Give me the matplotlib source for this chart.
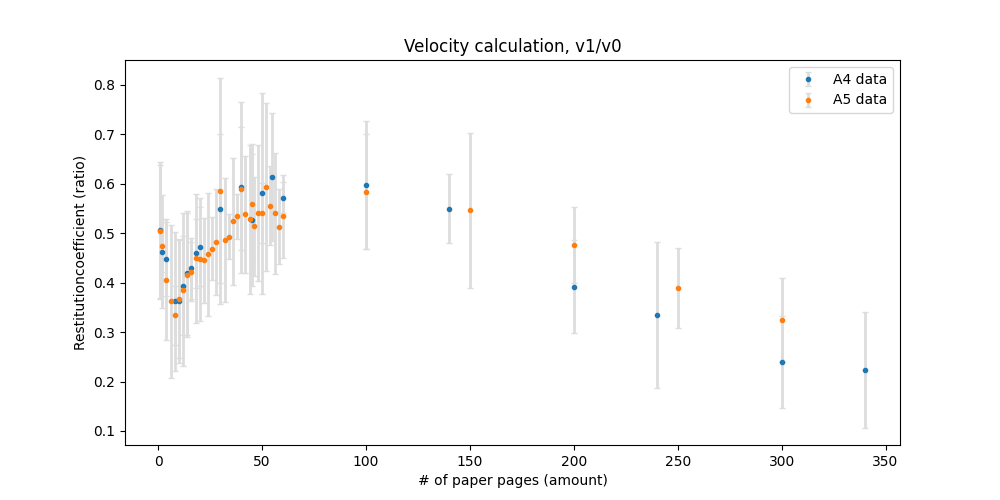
import matplotlib
matplotlib.use("Agg")
import matplotlib.pyplot as plt

# A4 paper measurements
a4_pages = [1, 2, 4, 8, 10, 12, 14, 16, 18, 20, 30, 40, 45, 50, 55, 60,
            100, 140, 200, 240, 300, 340]
a4_ratio = [0.506, 0.463, 0.447, 0.362, 0.363, 0.394, 0.419, 0.429, 0.459, 0.473,
            0.550, 0.593, 0.527, 0.581, 0.614, 0.572,
            0.598, 0.550, 0.392, 0.335, 0.240, 0.224]
a4_err = [0.139, 0.115, 0.075, 0.140, 0.125, 0.100, 0.125, 0.062, 0.070, 0.080,
          0.150, 0.173, 0.134, 0.203, 0.130, 0.032,
          0.130, 0.070, 0.094, 0.148, 0.093, 0.117]

# A5 paper measurements
a5_pages = [1, 2, 4, 6, 8, 10, 12, 14, 16, 18, 20, 22, 24, 26, 28, 30, 32, 34,
            36, 38, 40, 42, 44, 45, 46, 48, 50, 52, 54, 56, 58, 60,
            100, 150, 200, 250, 300]
a5_ratio = [0.504, 0.475, 0.406, 0.362, 0.334, 0.367, 0.386, 0.415, 0.422, 0.449,
            0.447, 0.445, 0.457, 0.469, 0.483, 0.586, 0.486, 0.493,
            0.524, 0.534, 0.590, 0.538, 0.528, 0.560, 0.514, 0.541, 0.541, 0.594,
            0.556, 0.540, 0.513, 0.534,
            0.584, 0.546, 0.477, 0.390, 0.325]
a5_err = [0.135, 0.053, 0.122, 0.154, 0.060, 0.120, 0.154, 0.125, 0.060, 0.130,
          0.125, 0.086, 0.125, 0.063, 0.107, 0.229, 0.125, 0.045,
          0.129, 0.046, 0.124, 0.118, 0.150, 0.120, 0.100, 0.137, 0.060, 0.170,
          0.080, 0.123, 0.076, 0.084,
          0.116, 0.156, 0.077, 0.081, 0.085]

fig, ax = plt.subplots(figsize=(10, 5))
bar_style = dict(fmt='.', ecolor='#dddddd', elinewidth=2, capsize=2)
ax.errorbar(a4_pages, a4_ratio, yerr=a4_err, label='A4 data', **bar_style)
ax.errorbar(a5_pages, a5_ratio, yerr=a5_err, label='A5 data', **bar_style)

ax.set_title('Velocity calculation, v1/v0')
ax.set_xlabel('# of paper pages (amount)')
ax.set_ylabel('Restitutioncoefficient (ratio)')
ax.legend()

fig.savefig('out.png', dpi=100)
